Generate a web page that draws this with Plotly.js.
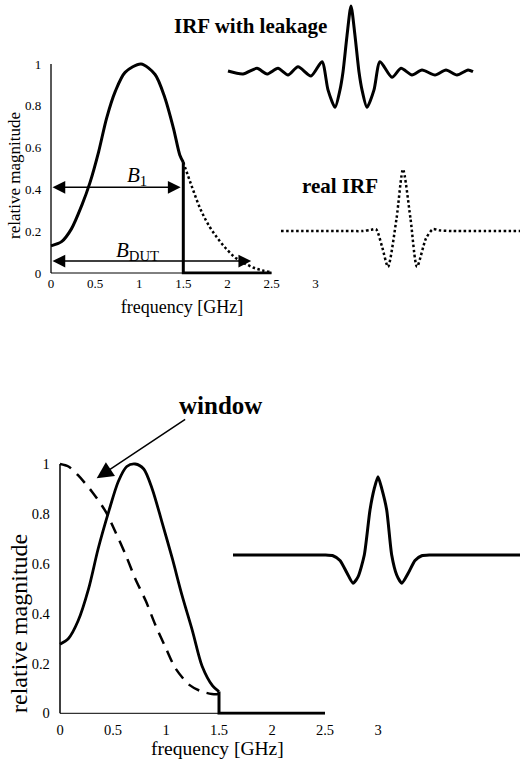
<!DOCTYPE html>
<html><head><meta charset="utf-8">
<script src="https://cdn.plot.ly/plotly-3.0.1.min.js"></script>
<style>html,body{margin:0;padding:0;background:#fff}#chart{width:520px;height:761px}</style>
</head><body><div id="chart"></div>
<script>
// ---------- data ----------
// top spectrum (solid, truncated at 1.5 GHz)
const topFreq = [0, 0.12, 0.23, 0.35, 0.44, 0.54, 0.63, 0.73, 0.84, 1.02, 1.18, 1.29, 1.39, 1.46, 1.5];
const topMag  = [0.13, 0.15, 0.21, 0.325, 0.43, 0.58, 0.74, 0.87, 0.96, 1.0, 0.95, 0.84, 0.69, 0.565, 0.53];
const topCutFreq = [1.5, 1.5, 2.5];
const topCutMag  = [0.53, 0, 0];
// top spectrum (dotted continuation = DUT bandwidth)
const tailFreq = [1.5, 1.6, 1.7, 1.8, 1.9, 2.0, 2.1, 2.2, 2.3, 2.4, 2.5];
const tailMag  = [0.53, 0.41, 0.3, 0.22, 0.16, 0.11, 0.07, 0.045, 0.025, 0.012, 0.004];
// bandwidth arrows
const b1Level = 0.41, b1End = 1.47;
const bDutLevel = 0.057, bDutEnd = 2.27;

// IRF with leakage (time in arbitrary units, amplitude normalised)
const leakT = [-12.3, -10.8, -9.4, -8.4, -7.3, -6.3, -5.3, -4.0, -2.9, -2.3, -1.6, -1.1, -0.8, -0.4, 0, 0.4, 0.8, 1.1, 1.6, 2.3, 2.9, 4.1, 5.0, 6.1, 7.1, 8.4, 9.5, 10.6, 11.7, 12.2];
const leakA = [0.015, -0.03, 0.056, -0.03, 0.056, -0.045, 0.08, -0.06, 0.156, -0.27, -0.535, -0.27, 0, 0.55, 1.0, 0.55, 0, -0.27, -0.535, -0.27, 0.156, -0.08, 0.056, -0.045, 0.03, -0.045, 0.03, -0.045, 0.03, 0.005];
// real IRF (dotted)
const realT = [-12.2, -6.0, -4.0, -3.2, -2.7, -2.1, -1.5, -0.65, 0, 0.75, 1.4, 2.3, 3.0, 3.6, 5.0, 11.7];
const realA = [0, 0, 0, 0.02, 0.03, -0.25, -0.58, 0.2, 1.0, 0.2, -0.58, -0.12, 0.03, 0.01, 0, 0];

// bottom spectrum (solid, windowed)
const botFreq = [0, 0.08, 0.17, 0.27, 0.36, 0.46, 0.55, 0.63, 0.71, 0.79, 0.87, 0.96, 1.06, 1.15, 1.25, 1.34, 1.44, 1.5];
const botMag  = [0.277, 0.30, 0.37, 0.50, 0.66, 0.81, 0.93, 0.99, 1.0, 0.98, 0.90, 0.77, 0.62, 0.475, 0.33, 0.19, 0.11, 0.087];
const botCutFreq = [1.5, 1.5, 2.5];
const botCutMag  = [0.087, 0, 0];
// window (dashed)
const winFreq = [0, 0.08, 0.17, 0.30, 0.43, 0.52, 0.62, 0.71, 0.81, 0.90, 1.0, 1.09, 1.22, 1.34, 1.47, 1.5];
const winMag  = [1.0, 0.99, 0.955, 0.89, 0.81, 0.73, 0.635, 0.54, 0.45, 0.354, 0.26, 0.18, 0.114, 0.087, 0.076, 0.08];
const winTip = [0.346, 0.943], winTail = [1.195, 1.183];
// windowed IRF
const winIrfT = [-14.5, -7.0, -5.3, -4.5, -3.8, -3.1, -2.5, -2.0, -1.37, -0.8, -0.37, 0, 0.37, 0.87, 1.37, 1.87, 2.37, 3.03, 3.7, 4.37, 5.2, 7.0, 14.2];
const winIrfA = [0, 0, 0, -0.01, -0.07, -0.23, -0.36, -0.28, 0, 0.575, 0.85, 1.0, 0.85, 0.575, 0, -0.255, -0.36, -0.23, -0.07, -0.01, 0, 0, 0];

// tick labels
const freqTicks = [0, 0.5, 1, 1.5, 2, 2.5, 3];
const freqTickText = ['0', '0.5', '1', '1.5', '2', '2.5', '3'];
const magTicks = [0, 0.2, 0.4, 0.6, 0.8, 1];
const magTickText = ['0', '0.2', '0.4', '0.6', '0.8', '1'];

// ---------- layout helpers ----------
const W = 520, H = 761;
const FONT = 'Liberation Serif, Times New Roman, serif';
function xdom(x0, k, r) { return [(x0 + k * r[0]) / W, (x0 + k * r[1]) / W]; }
function ydom(y0, k, r) { return [1 - (y0 - k * r[0]) / H, 1 - (y0 - k * r[1]) / H]; }

const topXr = [-0.03, 3.0], topYr = [-0.007, 1.03];
const botXr = [-0.03, 3.0], botYr = [-0.006, 1.025];
const leakXr = [-12.6, 12.9], leakYr = [-0.697, 1.091];
const realXr = [-12.5, 11.7], realYr = [-0.713, 1.151];
const wirXr = [-14.8, 14.2], wirYr = [-0.575, 1.188];

const blk = '#000';
const traces = [
  {x: topFreq, y: topMag, xaxis: 'x', yaxis: 'y', mode: 'lines', line: {color: blk, width: 3, shape: 'spline', smoothing: 0.8}},
  {x: topCutFreq, y: topCutMag, xaxis: 'x', yaxis: 'y', mode: 'lines', line: {color: blk, width: 3}},
  {x: tailFreq, y: tailMag, xaxis: 'x', yaxis: 'y', mode: 'lines', line: {color: blk, width: 2.5, dash: '2.5px,2.5px', shape: 'spline'}},
  {x: botFreq, y: botMag, xaxis: 'x2', yaxis: 'y2', mode: 'lines', line: {color: blk, width: 2.8, shape: 'spline', smoothing: 0.8}},
  {x: botCutFreq, y: botCutMag, xaxis: 'x2', yaxis: 'y2', mode: 'lines', line: {color: blk, width: 3}},
  {x: winFreq, y: winMag, xaxis: 'x2', yaxis: 'y2', mode: 'lines', line: {color: blk, width: 2.5, dash: '12px,8px', shape: 'spline', smoothing: 0.8}},
  {x: leakT, y: leakA, xaxis: 'x3', yaxis: 'y3', mode: 'lines', line: {color: blk, width: 3, shape: 'spline', smoothing: 0.7}},
  {x: realT, y: realA, xaxis: 'x4', yaxis: 'y4', mode: 'lines', line: {color: blk, width: 2.5, dash: '2.5px,2.5px', shape: 'spline', smoothing: 0.7}},
  {x: winIrfT, y: winIrfA, xaxis: 'x5', yaxis: 'y5', mode: 'lines', line: {color: blk, width: 3, shape: 'spline', smoothing: 0.6}}
];

function mainX(dom, r, tf, title, tsz, standoff, lblOff) {
  return {domain: dom, range: r, tickvals: freqTicks, ticktext: freqTickText,
    showline: false, showgrid: false, zeroline: false, ticks: '', ticklabelstandoff: lblOff,
    tickfont: {family: FONT, size: tf, color: blk}, fixedrange: true,
    title: {text: title, font: {family: FONT, size: tsz, color: blk}, standoff: standoff}};
}
function mainY(dom, r, tf) {
  return {domain: dom, range: r, tickvals: magTicks, ticktext: magTickText,
    showline: false, showgrid: false, zeroline: false, ticks: '', ticklabelstandoff: 6,
    tickfont: {family: FONT, size: tf, color: blk}, fixedrange: true};
}
function hidden(dom, r) { return {domain: dom, range: r, visible: false, fixedrange: true}; }

const layout = {
  width: W, height: H, margin: {l: 0, r: 0, t: 0, b: 0},
  paper_bgcolor: '#fff', plot_bgcolor: 'rgba(0,0,0,0)', showlegend: false,
  font: {family: FONT, color: blk},
  xaxis: Object.assign(mainX(xdom(51, 88.2, topXr), topXr, 13, 'frequency [GHz]', 18, 9, 0), {anchor: 'y'}),
  yaxis: Object.assign(mainY(ydom(273, 209, topYr), topYr, 13), {anchor: 'x'}),
  xaxis2: Object.assign(mainX(xdom(60, 106, botXr), botXr, 14.5, 'frequency [GHz]', 19.5, 4, 5), {anchor: 'y2'}),
  yaxis2: Object.assign(mainY(ydom(713.3, 249.3, botYr), botYr, 14.5), {anchor: 'x2'}),
  xaxis3: Object.assign(hidden(xdom(351, 10, leakXr), leakXr), {anchor: 'y3'}),
  yaxis3: Object.assign(hidden(ydom(72, 66, leakYr), leakYr), {anchor: 'x3'}),
  xaxis4: Object.assign(hidden(xdom(403, 10, realXr), realXr), {anchor: 'y4'}),
  yaxis4: Object.assign(hidden(ydom(231, 61.7, realYr), realYr), {anchor: 'x4'}),
  xaxis5: Object.assign(hidden(xdom(378, 10, wirXr), wirXr), {anchor: 'y5'}),
  yaxis5: Object.assign(hidden(ydom(555, 78.3, wirYr), wirYr), {anchor: 'x5'}),
  shapes: [
    {type: 'line', xref: 'x', yref: 'y', x0: 0, x1: 0, y0: 0, y1: 1, line: {color: blk, width: 1.3}},
    {type: 'line', xref: 'x', yref: 'y', x0: 0, x1: 2.5, y0: 0, y1: 0, line: {color: blk, width: 1}},
    {type: 'line', xref: 'x2', yref: 'y2', x0: 0, x1: 0, y0: 0, y1: 1, line: {color: blk, width: 1.5}},
    {type: 'line', xref: 'x2', yref: 'y2', x0: 0, x1: 2.5, y0: 0, y1: 0, line: {color: blk, width: 1}}
  ],
  annotations: [
    {xref: 'paper', yref: 'paper', x: 14 / W, y: 1 - 176 / H, text: 'relative magnitude', textangle: -90, showarrow: false,
     xanchor: 'center', yanchor: 'middle', font: {family: FONT, size: 17, color: blk}},
    {xref: 'paper', yref: 'paper', x: 19 / W, y: 1 - 624 / H, text: 'relative magnitude', textangle: -90, showarrow: false,
     xanchor: 'center', yanchor: 'middle', font: {family: FONT, size: 24, color: blk}},
    {xref: 'paper', yref: 'paper', x: 250 / W, y: 1 - 26 / H, text: '<b>IRF with leakage</b>', showarrow: false,
     xanchor: 'center', yanchor: 'middle', font: {family: FONT, size: 21, color: blk}},
    {xref: 'paper', yref: 'paper', x: 340 / W, y: 1 - 186 / H, text: '<b>real IRF</b>', showarrow: false,
     xanchor: 'center', yanchor: 'middle', font: {family: FONT, size: 21, color: blk}},
    {xref: 'paper', yref: 'paper', x: 220 / W, y: 1 - 405 / H, text: '<b>window</b>', showarrow: false,
     xanchor: 'center', yanchor: 'middle', font: {family: FONT, size: 25, color: blk}},
    {xref: 'x', yref: 'y', x: 0.98, y: 0.465, text: '<i>B</i><sub>1</sub>', showarrow: false,
     xanchor: 'center', yanchor: 'middle', font: {family: FONT, size: 21, color: blk}},
    {xref: 'x', yref: 'y', x: 0.98, y: 0.105, text: '<i>B</i><sub>DUT</sub>', showarrow: false,
     xanchor: 'center', yanchor: 'middle', font: {family: FONT, size: 21, color: blk}},
    {xref: 'x', yref: 'y', x: b1End, y: b1Level, axref: 'x', ayref: 'y', ax: 0, ay: b1Level, text: '',
     showarrow: true, arrowside: 'end+start', arrowhead: 2, startarrowhead: 2, arrowsize: 1.7, startarrowsize: 1.7,
     arrowwidth: 1.5, arrowcolor: blk},
    {xref: 'x', yref: 'y', x: bDutEnd, y: bDutLevel, axref: 'x', ayref: 'y', ax: 0, ay: bDutLevel, text: '',
     showarrow: true, arrowside: 'end+start', arrowhead: 2, startarrowhead: 2, arrowsize: 1.7, startarrowsize: 1.7,
     arrowwidth: 1.5, arrowcolor: blk},
    {xref: 'x2', yref: 'y2', x: winTip[0], y: winTip[1], axref: 'x2', ayref: 'y2', ax: winTail[0], ay: winTail[1], text: '',
     showarrow: true, arrowhead: 2, arrowsize: 2.2, arrowwidth: 1.5, arrowcolor: blk}
  ]
};

Plotly.newPlot('chart', traces, layout, {staticPlot: true, displayModeBar: false});
</script>
</body></html>
